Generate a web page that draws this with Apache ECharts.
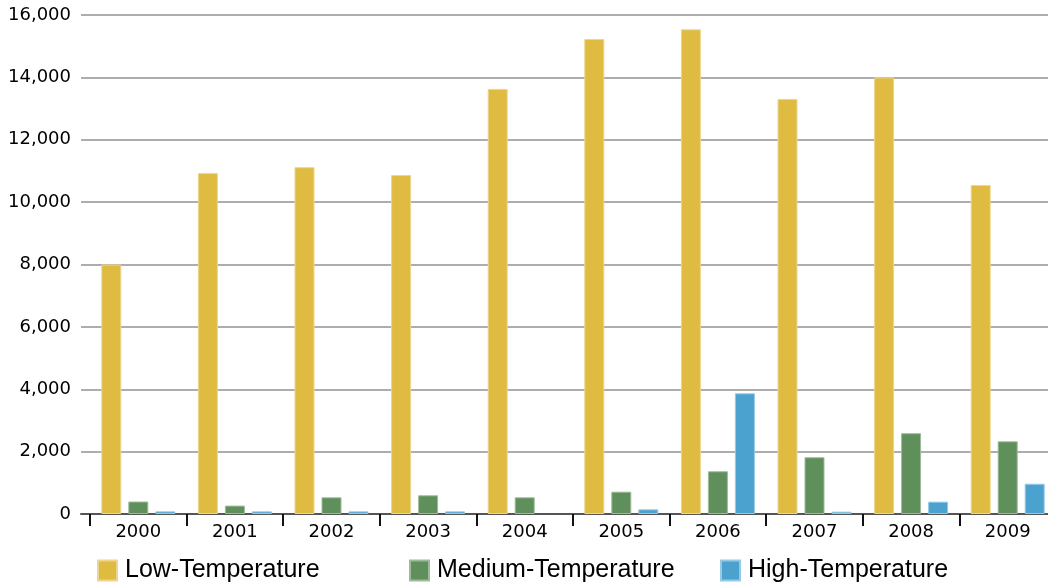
<!DOCTYPE html>
<html>
<head>
<meta charset="utf-8">
<script src="https://cdn.jsdelivr.net/npm/echarts@6/dist/echarts.min.js"></script>
<style>
  html, body { margin: 0; padding: 0; background: #fff; }
  #chart { width: 1048px; height: 584px; }
</style>
</head>
<body>
<div id="chart"></div>
<script>
// Yearly totals by temperature class
const years = ['2000', '2001', '2002', '2003', '2004', '2005', '2006', '2007', '2008', '2009'];
const lowTemp = [8000, 10930, 11120, 10870, 13630, 15230, 15540, 13310, 14000, 10550];
const mediumTemp = [400, 270, 535, 600, 535, 715, 1370, 1820, 2590, 2330];
const highTemp = [85, 85, 85, 85, 0, 150, 3870, 75, 395, 970];
const seriesNames = ['Low-Temperature', 'Medium-Temperature', 'High-Temperature'];
const seriesColors = ['#dfbb42', '#5f8f5b', '#4ba2cf'];
const seriesEdges = ['#ecd68e', '#9dbb99', '#97c9e4'];

const chart = echarts.init(document.getElementById('chart'), null, { renderer: 'canvas' });

const labelFont = 'DejaVu Sans';
const legendFont = 'Liberation Sans';

function legendFor(i, left) {
  return {
    data: [seriesNames[i]],
    left: left,
    top: 558,
    orient: 'horizontal',
    itemWidth: 19,
    itemHeight: 20,
    icon: 'rect',
    selectedMode: false,
    padding: 0,
    textStyle: {
      fontFamily: legendFont,
      fontSize: 25,
      color: '#000',
      padding: [0, 0, 0, 3]
    }
  };
}

// zero values get no outline so nothing shows on the baseline
const toBars = arr => arr.map(v => (v === 0 ? { value: v, itemStyle: { borderWidth: 0 } } : v));
const seriesData = [lowTemp, mediumTemp, highTemp];

chart.setOption({
  animation: false,
  backgroundColor: '#fff',
  grid: [
    // value grid: gridlines, y labels and the baseline
    { left: 81, right: 0, top: 15, bottom: 70, outerBoundsMode: 'none' },
    // category grid holding the bars; last category runs past the right edge
    { left: 90, width: 966, top: 15, bottom: 70, outerBoundsMode: 'none' }
  ],
  xAxis: [
    {
      gridIndex: 0,
      type: 'value',
      min: 0,
      max: 1,
      axisLine: { show: true, lineStyle: { color: '#555', width: 2 } },
      axisTick: { show: false },
      axisLabel: { show: false },
      splitLine: { show: false }
    },
    {
      gridIndex: 1,
      type: 'category',
      data: years,
      boundaryGap: true,
      axisLine: { show: false },
      axisTick: { show: true, length: 12, lineStyle: { color: '#111', width: 2 } },
      axisLabel: {
        fontFamily: labelFont,
        fontSize: 18,
        color: '#000',
        margin: 9
      },
      splitLine: { show: false }
    }
  ],
  yAxis: [
    {
      gridIndex: 0,
      type: 'value',
      min: 0,
      max: 16000,
      interval: 2000,
      axisLine: { show: false },
      axisTick: { show: false },
      axisLabel: {
        fontFamily: labelFont,
        fontSize: 18,
        color: '#000',
        margin: 10,
        formatter: v => v.toLocaleString('en-US')
      },
      splitLine: { show: true, lineStyle: { color: '#adadad', width: 2 } }
    },
    {
      gridIndex: 1,
      type: 'value',
      min: 0,
      max: 16000,
      interval: 2000,
      show: false,
      splitLine: { show: false }
    }
  ],
  legend: [legendFor(0, 97), legendFor(1, 409), legendFor(2, 720)],
  series: seriesNames.map((name, i) => ({
    name: name,
    type: 'bar',
    xAxisIndex: 1,
    yAxisIndex: 1,
    data: toBars(seriesData[i]),
    barWidth: 20,
    barGap: '35%',
    itemStyle: {
      color: seriesColors[i],
      borderColor: seriesEdges[i],
      borderWidth: 1
    }
  }))
});
</script>
</body>
</html>
